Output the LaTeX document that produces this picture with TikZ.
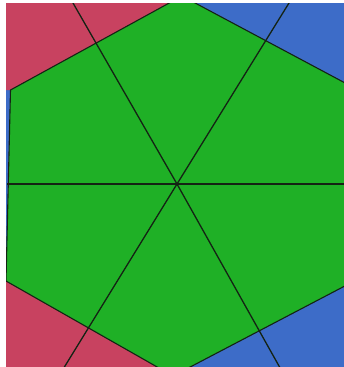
\documentclass[tikz,border=0pt]{standalone}
\usetikzlibrary{calc}
\definecolor{redc}{RGB}{200,66,96}
\definecolor{bluec}{RGB}{61,108,200}
\definecolor{greenc}{RGB}{31,176,38}
\definecolor{linec}{RGB}{20,35,20}
\begin{document}
\begin{tikzpicture}[x=1pt,y=-1pt,
  edge/.style={draw=linec,line width=1.1pt,line join=round},
  spoke/.style={draw=linec,line width=1.3pt}]
\useasboundingbox (0,0) rectangle (344,367);
\fill[white] (0,0) rectangle (344,367);
\begin{scope}
\clip (6,3) rectangle (344,366);
\fill[bluec] (0,0) rectangle (350,370);
% named corners
\coordinate (C) at (177,184);
\coordinate (T) at (182,-4);
\coordinate (TR) at (362,92);
\coordinate (BR) at (362,277);
\coordinate (B) at (173,376);
\coordinate (BL) at (6,281);
\coordinate (TL) at (10.5,90);
\fill[redc] (-10,-10) -- (T) -- (TL) -- (-10,91) -- cycle;
\fill[redc] (-10,279) -- (BL) -- (B) -- (-10,380) -- cycle;
\fill[greenc] (T) -- (TR) -- (BR) -- (B) -- (BL) -- (TL) -- cycle;
\draw[edge] (T) -- (TR) -- (BR) -- (B) -- (BL) -- (TL) -- cycle;
\coordinate (S1) at ($(C)!1.1!(73,3)$);
\coordinate (S2) at ($(C)!1.1!(289,3)$);
\coordinate (S3) at ($(C)!1.1!(65,366)$);
\coordinate (S4) at ($(C)!1.1!(279,366)$);
\coordinate (S5) at (7,184);
\coordinate (S6) at (350,184);
\draw[spoke] (C) -- (S1);
\draw[spoke] (C) -- (S2);
\draw[spoke] (C) -- (S3);
\draw[spoke] (C) -- (S4);
\draw[spoke] (S5) -- (S6);
\end{scope}
\end{tikzpicture}
\end{document}
